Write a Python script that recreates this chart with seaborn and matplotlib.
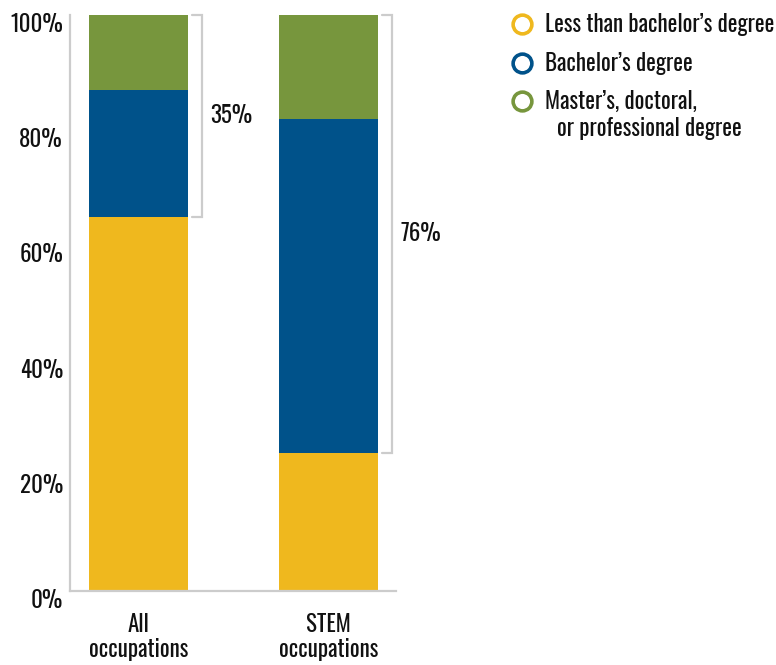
import numpy as np
import pandas as pd
import matplotlib
matplotlib.use("Agg")
import matplotlib.pyplot as plt
import seaborn as sns
from matplotlib.lines import Line2D
from matplotlib import transforms

# ---- data ----
categories = ["All\noccupations", "STEM\noccupations"]
series_names = ["Less than bachelor’s degree", "Bachelor’s degree", "Master’s, doctoral,"]
series_name_extra = "or professional degree"
less_than_bachelor = [65, 24]
bachelor = [22, 58]
advanced = [13, 18]
bracket_labels = ["35%", "76%"]
y_ticks = [0, 20, 40, 60, 80, 100]
y_tick_labels = ["0%", "20%", "40%", "60%", "80%", "100%"]
colors = ["#EFB81E", "#00528A", "#77963D"]
gray = "#CCCCCC"
ink = "#111111"

sns.set_theme(style="white")
plt.rcParams["font.family"] = ["Oswald", "DejaVu Sans"]
FS = 16.5

fig = plt.figure(figsize=(7.76, 6.65), dpi=100)
W, H = 776, 665
ax = fig.add_axes([70 / W, 74 / H, 326 / W, 576 / H])

df = pd.DataFrame({
    "category": categories,
    "less": less_than_bachelor,
    "bach": bachelor,
    "adv": advanced,
})
df["c1"] = df["less"]
df["c2"] = df["c1"] + df["bach"]
df["c3"] = df["c2"] + df["adv"]

bar_w = 0.52
for col, color in zip(["c3", "c2", "c1"], colors[::-1]):
    sns.barplot(data=df, x="category", y=col, color=color, width=bar_w,
                saturation=1, errorbar=None, linewidth=0, ax=ax)

ax.set_xlim(-0.3605, 1.355)
ax.set_ylim(0, 100)
ax.set_xlabel("")
ax.set_ylabel("")
ax.set_yticks(y_ticks)
ax.set_yticklabels(y_tick_labels, fontsize=FS, color=ink)
ax.set_xticks(range(len(categories)))
ax.set_xticklabels(categories, fontsize=FS, color=ink, linespacing=1.08)
ax.tick_params(axis="both", length=0)
ax.tick_params(axis="y", pad=5)
ax.tick_params(axis="x", pad=16)
off = transforms.ScaledTranslation(0, -7.5 / 100, fig.dpi_scale_trans)
for lab in ax.get_yticklabels():
    lab.set_transform(lab.get_transform() + off)

for s in ["top", "right"]:
    ax.spines[s].set_visible(False)
for s in ["left", "bottom"]:
    ax.spines[s].set_color(gray)
    ax.spines[s].set_linewidth(1.6)

# brackets spanning bachelor's + advanced share
for i, (lo, lab) in enumerate(zip(less_than_bachelor, bracket_labels)):
    edge = i + bar_w / 2
    x1, x2 = edge + 0.021, edge + 0.076
    ax.plot([x1, x2, x2, x1], [100, 100, lo, lo], color=gray, lw=1.6,
            clip_on=False, solid_joinstyle="miter")
    ax.text(edge + 0.118, (100 + lo) / 2, lab, fontsize=FS, color=ink,
            ha="left", va="center")

# legend
handles = [Line2D([], [], marker="o", ls="", ms=13.5, mfc="white", mec=c, mew=2.6)
           for c in colors]
leg = fig.legend(handles, series_names, loc="upper left",
                 bbox_to_anchor=(511 / W, 1 - 13.5 / H), bbox_transform=fig.transFigure,
                 frameon=False, borderpad=0, borderaxespad=0, handlelength=1.0,
                 handletextpad=0.5, labelspacing=0.66, fontsize=FS)
for t in leg.get_texts():
    t.set_color(ink)
fig.text(557 / W, 1 - 128 / H, series_name_extra, ha="left", va="center",
         fontsize=FS, color=ink)

fig.savefig("out.png", dpi=100)
